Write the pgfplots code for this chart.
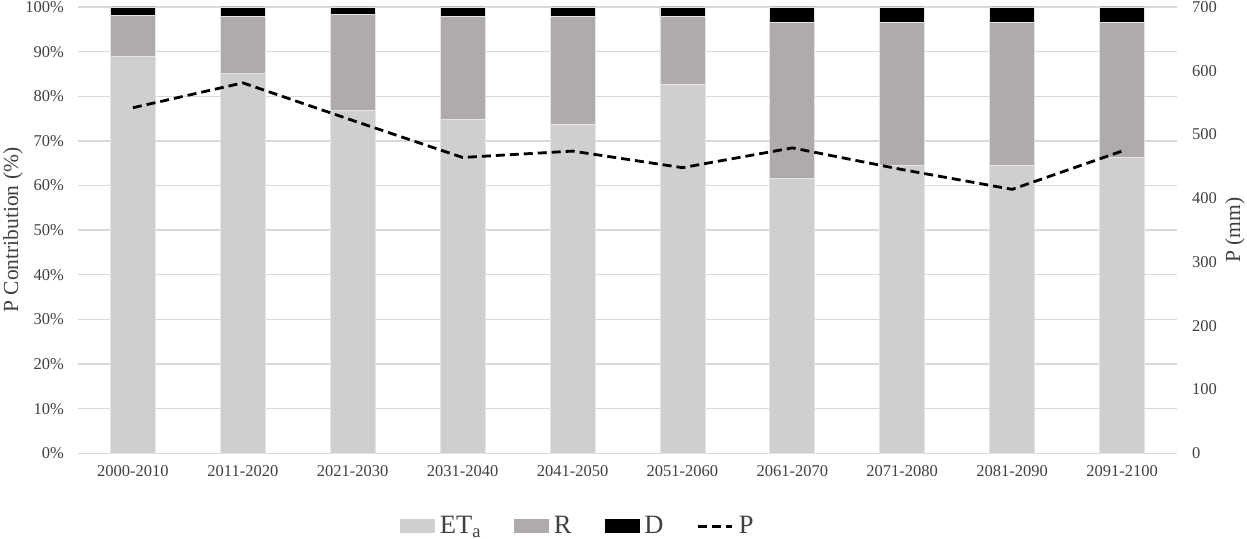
\documentclass[border=0pt]{standalone}
\usepackage{fontspec}
\setmainfont{Liberation Serif}
\usepackage{pgfplots}
\pgfplotsset{compat=1.18}
\definecolor{etacol}{RGB}{208,206,206}
\definecolor{rcol}{RGB}{175,171,171}
\definecolor{gridcol}{RGB}{217,217,217}
\definecolor{txtcol}{RGB}{64,64,64}
\definecolor{edgecol}{RGB}{228,228,228}
\newcommand\tickfont{\fontsize{16.5bp}{19bp}\selectfont}
\newcommand\labfont{\fontsize{21.5bp}{25bp}\selectfont}
\newcommand\legfont{\fontsize{26.5bp}{30bp}\selectfont}
\pgfplotsset{
  common/.style={
    at={(78bp,85.7bp)}, anchor=south west, scale only axis,
    width=1099bp, height=446.3bp,
    xmin=-0.5, xmax=9.5,
    major tick length=0pt,
    /pgf/number format/assume math mode=true,
    ticklabel style={font=\tickfont, text=txtcol, inner sep=0pt},
  },
  legeta/.style={legend image code/.code={\fill[etacol] (0bp,-7bp) rectangle (34bp,6bp);}},
  legr/.style={legend image code/.code={\fill[rcol] (0bp,-7bp) rectangle (34bp,6bp);}},
  legd/.style={legend image code/.code={\fill[black] (0bp,-7bp) rectangle (34bp,6bp);}},
  legp/.style={legend image code/.code={\draw[black, line width=2.8bp, dash pattern=on 9bp off 5bp] (0bp,-0.5bp) -- (34bp,-0.5bp);}},
}
\begin{document}
\begin{tikzpicture}
\path[use as bounding box] (0,0) rectangle (1247bp,539bp);
\begin{axis}[common,
  ymin=0, ymax=100,
  ybar stacked, bar width=45bp,
  axis line style={draw=none},
  ymajorgrids, grid style={gridcol, line width=1.3bp},
  ytick={0,10,...,100},
  yticklabel={\pgfmathprintnumber{\tick}\%},
  yticklabel style={anchor=east, xshift=-14bp},
  xtick={0,...,9},
  xticklabels={2000-2010,2011-2020,2021-2030,2031-2040,2041-2050,2051-2060,2061-2070,2071-2080,2081-2090,2091-2100},
  xticklabel style={anchor=north, yshift=-12bp},
  every axis y label/.style={at={(axis description cs:-0.0592,0.5)}, rotate=90, anchor=center},
  ylabel={P Contribution (\%)},
  ylabel style={font=\labfont, text=txtcol},
]
\addplot[fill=etacol, draw=edgecol, line width=0.8bp] coordinates {
 (0,89.0) (1,85.2) (2,76.8) (3,74.9) (4,73.8) (5,82.6) (6,61.6) (7,64.6) (8,64.5) (9,66.3)};
\addplot[fill=rcol, draw=edgecol, line width=0.8bp] coordinates {
 (0,9.2) (1,12.6) (2,21.5) (3,22.9) (4,24.0) (5,15.2) (6,34.9) (7,31.9) (8,32.0) (9,30.2)};
\addplot[fill=black, draw=edgecol, line width=0.8bp] coordinates {
 (0,1.8) (1,2.2) (2,1.7) (3,2.2) (4,2.2) (5,2.2) (6,3.5) (7,3.5) (8,3.5) (9,3.5)};
\end{axis}
\begin{axis}[common,
  ymin=0, ymax=700,
  axis x line=none, axis y line*=right,
  axis line style={draw=none},
  ytick={0,100,...,700},
  yticklabel style={anchor=west, xshift=15bp},
  every axis y label/.style={at={(axis description cs:1.0528,0.5)}, rotate=90, anchor=center},
  ylabel={P (mm)},
  ylabel style={font=\labfont, text=txtcol},
  legend columns=4,
  legend style={draw=none, fill=none, inner sep=0pt, outer sep=0pt,
    at={(0.293,-0.162)}, anchor=west,
    font=\legfont, text=txtcol,
    nodes={inner sep=0pt},
    /tikz/every odd column/.style={column sep=5.5bp},
    /tikz/every even column/.style={column sep=33bp}},
]
\addlegendimage{legeta}
\addlegendentry{ET\textsubscript{a}}
\addlegendimage{legr}
\addlegendentry{R}
\addlegendimage{legd}
\addlegendentry{D}
\addplot[black, line width=2.8bp, dash pattern=on 9bp off 5bp, legp] coordinates {
 (0,542) (1,581) (2,522) (3,464) (4,474) (5,448) (6,479) (7,445) (8,414) (9,474)};
\addlegendentry{P}
\end{axis}
\end{tikzpicture}
\end{document}
